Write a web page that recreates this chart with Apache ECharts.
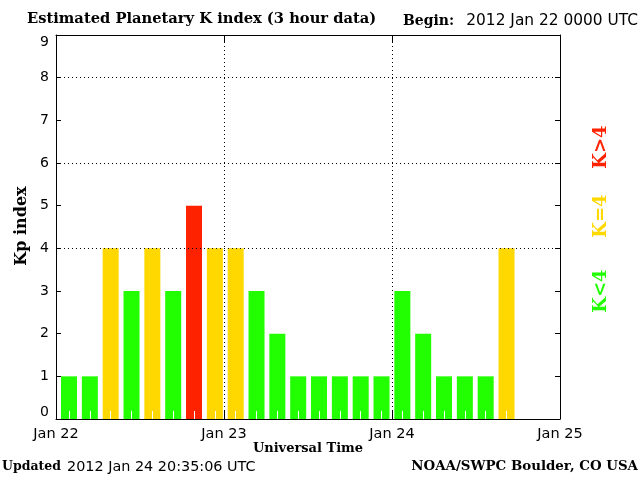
<!DOCTYPE html>
<html>
<head>
<meta charset="utf-8">
<style>
  html, body { margin: 0; padding: 0; background: #fff; }
  #kp-chart { width: 640px; height: 480px; }
</style>
<script src="https://cdn.jsdelivr.net/npm/echarts@6/dist/echarts.min.js"></script>
</head>
<body>
<div id="kp-chart"></div>
<script>
// 3-hour slots, Jan 22 00 UT .. Jan 24 21 UT
const slots = [
  '22 00', '22 03', '22 06', '22 09', '22 12', '22 15', '22 18', '22 21',
  '23 00', '23 03', '23 06', '23 09', '23 12', '23 15', '23 18', '23 21',
  '24 00', '24 03', '24 06', '24 09', '24 12', '24 15', '24 18', '24 21'
];
// estimated Kp per slot (last two slots not yet reported)
const kpValues = [1, 1, 4, 3, 4, 3, 5, 4, 4, 3, 2, 1, 1, 1, 1, 1, 3, 2, 1, 1, 1, 4];
const dayLabels = ['Jan 22', 'Jan 23', 'Jan 24', 'Jan 25'];
const dayHours = [0, 24, 48, 72];
const gridLevels = [4, 6, 8];
const dayLines = [24, 48];

const GREEN = '#22ff00';
const YELLOW = '#ffd800';
const RED = '#ff2200';
const SANS = '"DejaVu Sans"';
const SERIF = '"DejaVu Serif"';

const kpColor = v => (v < 4 ? GREEN : (v === 4 ? YELLOW : RED));

const chartDom = echarts.init(document.getElementById('kp-chart'));

const frameAxis = {
  axisLine: { show: true, onZero: false, lineStyle: { color: '#000', width: 1 } },
  splitLine: { show: false }
};

const option = {
  animation: false,
  backgroundColor: '#fff',
  grid: [
    { left: 56, right: 80, top: 35, bottom: 61 },
    { left: 58.6, right: 81.4, top: 35, bottom: 61 }
  ],
  xAxis: [
    {
      ...frameAxis,
      type: 'value', gridIndex: 0, position: 'bottom', z: 20,
      min: 0, max: 72, interval: 24,
      axisTick: { inside: true, length: 8, lineStyle: { color: '#000' } },
      axisLabel: {
        color: '#000', fontFamily: SANS, fontSize: 14.5, margin: 8,
        formatter: v => dayLabels[dayHours.indexOf(v)]
      }
    },
    {
      ...frameAxis,
      type: 'value', gridIndex: 0, position: 'top', z: 20,
      min: 0, max: 72, interval: 24,
      axisTick: { inside: true, length: 8, lineStyle: { color: '#000' } },
      axisLabel: { show: false }
    },
    {
      type: 'category', gridIndex: 1, data: slots, z: 10,
      axisLine: { show: false },
      axisTick: { show: true, inside: true, length: 8, alignWithLabel: true, interval: 0, lineStyle: { color: '#fff' } },
      axisLabel: { show: false },
      splitLine: { show: false }
    }
  ],
  yAxis: [
    {
      ...frameAxis,
      type: 'value', gridIndex: 0, position: 'left', z: 20,
      min: 0, max: 9, interval: 1,
      axisTick: { inside: true, length: 5, lineStyle: { color: '#000' } },
      axisLabel: {
        color: '#000', fontFamily: SANS, fontSize: 14, margin: 7,
        verticalAlignMinLabel: 'bottom', verticalAlignMaxLabel: 'top'
      }
    },
    {
      ...frameAxis,
      type: 'value', gridIndex: 0, position: 'right', z: 20,
      min: 0, max: 9, interval: 1,
      axisTick: { inside: true, length: 5, lineStyle: { color: '#000' } },
      axisLabel: { show: false }
    },
    {
      type: 'value', gridIndex: 1, min: 0, max: 9, show: false
    }
  ],
  series: [
    {
      type: 'bar',
      xAxisIndex: 2,
      yAxisIndex: 2,
      barWidth: 16,
      data: kpValues.map(v => ({ value: v, itemStyle: { color: kpColor(v) } }))
    },
    {
      type: 'line',
      xAxisIndex: 0,
      yAxisIndex: 0,
      data: [],
      z: 5,
      markLine: {
        silent: true,
        symbol: 'none',
        label: { show: false },
        lineStyle: { color: '#000', width: 1, type: [1, 3] },
        data: [
          ...gridLevels.map(v => ({ yAxis: v })),
          ...dayLines.map(v => ({ xAxis: v }))
        ]
      }
    }
  ],
  graphic: [
    { type: 'text', x: 27, y: 19, style: { text: 'Estimated Planetary K index (3 hour data)', font: 'bold 14.7px ' + SERIF, fill: '#000', verticalAlign: 'middle' } },
    { type: 'text', x: 403, y: 21, style: { text: 'Begin:', font: 'bold 14px ' + SERIF, fill: '#000', verticalAlign: 'middle' } },
    { type: 'text', x: 638, y: 21, style: { text: '2012 Jan 22 0000 UTC', font: '15.4px ' + SANS, fill: '#000', align: 'right', verticalAlign: 'middle' } },
    { type: 'text', x: 308, y: 449, style: { text: 'Universal Time', font: 'bold 13px ' + SERIF, fill: '#000', align: 'center', verticalAlign: 'middle' } },
    { type: 'text', x: 22, y: 226, rotation: Math.PI / 2, style: { text: 'Kp index', font: 'bold 16px ' + SERIF, fill: '#000', align: 'center', verticalAlign: 'middle' } },
    { type: 'text', x: 2, y: 467, style: { text: 'Updated', font: 'bold 12.5px ' + SERIF, fill: '#000', verticalAlign: 'middle' } },
    { type: 'text', x: 67, y: 467, style: { text: '2012 Jan 24 20:35:06 UTC', font: '14.4px ' + SANS, fill: '#000', verticalAlign: 'middle' } },
    { type: 'text', x: 638, y: 467, style: { text: 'NOAA/SWPC Boulder, CO USA', font: 'bold 13.4px ' + SERIF, fill: '#000', align: 'right', verticalAlign: 'middle' } },
    { type: 'text', x: 601, y: 147, rotation: Math.PI / 2, style: { text: 'K>4', font: 'bold 18px ' + SERIF, fill: RED, align: 'center', verticalAlign: 'middle' } },
    { type: 'text', x: 601, y: 216, rotation: Math.PI / 2, style: { text: 'K=4', font: 'bold 18px ' + SERIF, fill: YELLOW, align: 'center', verticalAlign: 'middle' } },
    { type: 'text', x: 601, y: 291, rotation: Math.PI / 2, style: { text: 'K<4', font: 'bold 18px ' + SERIF, fill: GREEN, align: 'center', verticalAlign: 'middle' } }
  ]
};

chartDom.setOption(option);
</script>
</body>
</html>
